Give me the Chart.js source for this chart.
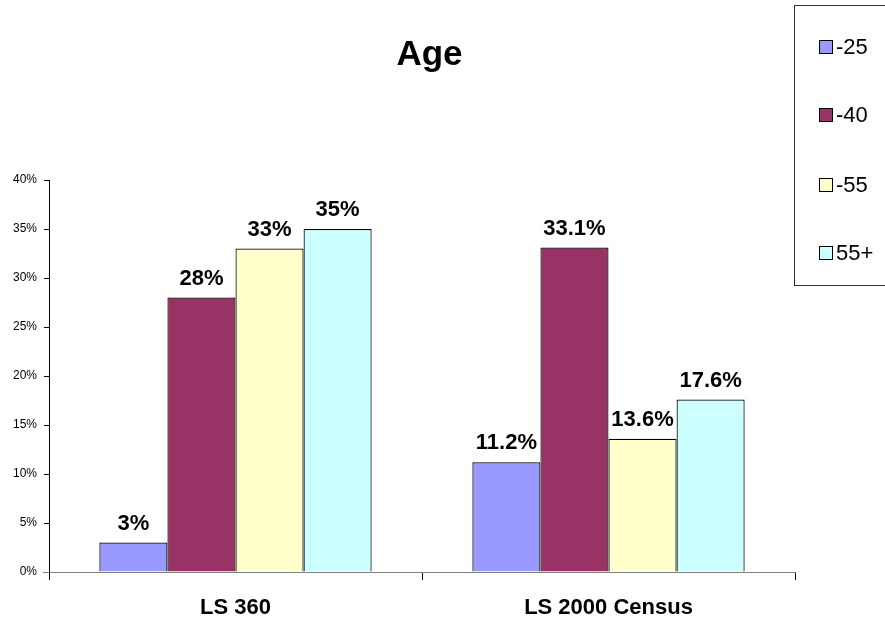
<!DOCTYPE html>
<html>
<head>
<meta charset="utf-8">
<script src="https://cdn.jsdelivr.net/npm/chart.js@4"></script>
<style>
  html, body { margin: 0; padding: 0; background: #ffffff; }
  #wrap { width: 885px; height: 620px; position: relative; }
</style>
</head>
<body>
<div id="wrap"><canvas id="c" width="885" height="620"></canvas></div>
<script>
const chartTitle = "Age";
const categories = ["LS 360", "LS 2000 Census"];
const seriesNames = ["-25", "-40", "-55", "55+"];
const seriesColors = ["#9999FF", "#993366", "#FFFFCC", "#CCFFFF"];
const valuesUnder25 = [3, 11.2];
const values25to40 = [28, 33.1];
const values40to55 = [33, 13.6];
const values55plus = [35, 17.6];
const yTicks = [0, 5, 10, 15, 20, 25, 30, 35, 40];

const seriesValues = [valuesUnder25, values25to40, values40to55, values55plus];
const FONT = "'Liberation Sans', Arial, sans-serif";

const overlayPlugin = {
  id: 'overlay',
  afterDatasetsDraw(chart) {
    const ctx = chart.ctx;
    const ca = chart.chartArea;
    ctx.save();
    // data labels
    ctx.font = "bold 22px " + FONT;
    ctx.fillStyle = "#000";
    ctx.textAlign = "center";
    ctx.textBaseline = "alphabetic";
    chart.data.datasets.forEach((ds, i) => {
      const meta = chart.getDatasetMeta(i);
      meta.data.forEach((bar, j) => {
        ctx.fillText(ds.data[j] + "%", bar.x, bar.y - 13);
      });
    });
    // title
    ctx.font = "bold 35px " + FONT;
    ctx.textBaseline = "middle";
    ctx.fillText(chartTitle, (ca.left + ca.right) / 2 + 7.5, 55);
    // legend
    ctx.strokeStyle = "#333";
    ctx.lineWidth = 1;
    ctx.strokeRect(794.5, 5.5, 100, 280);
    const itemY = [47, 115, 185, 253];
    ctx.font = "22px " + FONT;
    ctx.textAlign = "left";
    chart.data.datasets.forEach((ds, i) => {
      const y = itemY[i];
      ctx.fillStyle = ds.backgroundColor;
      ctx.fillRect(819.5, y - 6.5, 13, 13);
      ctx.strokeStyle = "#000";
      ctx.strokeRect(819.5, y - 6.5, 13, 13);
      ctx.fillStyle = "#000";
      ctx.fillText(ds.label, 836, y + 1);
    });
    // extend x axis line to the left
    ctx.strokeStyle = "#808080";
    ctx.beginPath();
    ctx.moveTo(43, ca.bottom + 0.5);
    ctx.lineTo(ca.left, ca.bottom + 0.5);
    ctx.stroke();
    ctx.restore();
  }
};

new Chart(document.getElementById('c'), {
  type: 'bar',
  data: {
    labels: categories,
    datasets: seriesNames.map((name, i) => ({
      label: name,
      data: seriesValues[i],
      backgroundColor: seriesColors[i],
      borderColor: "#000",
      borderWidth: 1.2,
      categoryPercentage: 0.73,
      barPercentage: 1.0
    }))
  },
  options: {
    responsive: false,
    animation: false,
    devicePixelRatio: 1,
    layout: { padding: { top: 180, right: 90, left: 0, bottom: 0 } },
    plugins: {
      legend: { display: false },
      title: { display: false },
      tooltip: { enabled: false }
    },
    scales: {
      x: {
        grid: { display: true, offset: true, drawOnChartArea: false, drawTicks: true, tickLength: 8, color: "#000" },
        border: { display: true, color: "#808080", width: 1 },
        ticks: { font: { family: FONT, size: 22, weight: 'bold' }, color: "#000", padding: 15 },
        afterFit(scale) { scale.height = 48; }
      },
      y: {
        min: 0, max: 40,
        afterBuildTicks(scale) { scale.ticks = yTicks.map(v => ({ value: v })); },
        grid: { display: true, drawOnChartArea: false, drawTicks: true, tickLength: 5, color: "#000" },
        border: { display: true, color: "#000", width: 1 },
        ticks: { font: { family: FONT, size: 12 }, color: "#000", padding: 7, callback: v => v + "%" },
        afterFit(scale) { scale.width = 49; }
      }
    }
  },
  plugins: [overlayPlugin]
});
</script>
</body>
</html>
